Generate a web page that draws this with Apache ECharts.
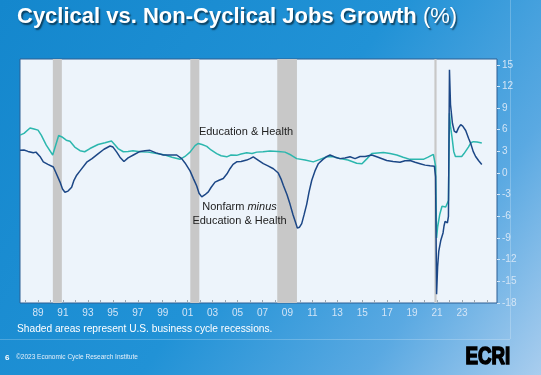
<!DOCTYPE html>
<html>
<head>
<meta charset="utf-8">
<script src="https://cdn.jsdelivr.net/npm/echarts@6/dist/echarts.min.js"></script>
<style>
html,body{margin:0;padding:0;width:541px;height:375px;overflow:hidden;}
#c{width:541px;height:375px;}
</style>
</head>
<body>
<div id="c"></div>
<script>
// Education & Health (decimal year, % y/y)
var eduYears = [1987.95,1988.26,1988.73,1989.04,1989.35,1989.60,1989.99,1990.49,1990.95,1991.21,1991.54,1991.83,1992.20,1992.61,1992.97,1993.38,1994.01,1994.55,1995.05,1995.33,1995.56,1995.97,1996.34,1996.72,1997.27,1997.89,1998.56,1999.21,1999.75,2000.37,2000.76,2001.15,2001.54,2001.79,2002.08,2002.45,2002.78,2003.22,2003.56,2004.00,2004.33,2004.77,2005.11,2005.55,2005.96,2006.33,2006.82,2007.36,2007.98,2008.52,2008.99,2009.43,2010.08,2010.72,2011.24,2011.76,2012.25,2012.79,2013.41,2014.09,2014.50,2014.89,2015.26,2016.16,2016.68,2017.20,2017.69,2018.23,2019.26,2019.63,2020.04,2020.12,2020.21,2020.29,2020.37,2020.54,2020.71,2020.79,2021.00,2021.21,2021.29,2021.37,2021.50,2021.62,2021.75,2022.00,2022.24,2022.42,2022.76,2022.96,2023.14,2023.43,2023.80];
var eduValues = [5.25,5.5,6.25,6.1,5.95,5.25,3.86,2.5,5.2,5.0,4.55,4.4,3.6,3.1,2.95,3.4,3.95,4.2,4.45,3.9,3.4,2.95,3.0,3.1,2.95,2.9,2.7,2.5,2.2,1.9,2.3,2.9,3.8,4.1,3.95,3.7,3.2,2.7,2.4,2.25,2.5,2.45,2.65,2.8,2.7,2.9,2.95,3.05,3.0,2.9,2.5,2.0,1.8,1.55,1.9,2.25,2.3,2.0,1.8,1.35,1.3,2.0,2.7,2.85,2.7,2.5,2.2,1.9,1.9,2.2,2.6,2.7,1.0,-9.0,-7.5,-5.7,-4.6,-4.4,-4.7,-3.8,8.3,6.5,4.8,3.0,2.3,2.3,2.3,2.7,3.6,4.2,4.35,4.3,4.15];

// Nonfarm minus Education & Health
var nfYears = [1987.95,1988.26,1988.57,1988.98,1989.19,1989.50,1989.76,1990.12,1990.54,1990.75,1991.06,1991.25,1991.44,1991.68,1991.96,1992.14,1992.35,1992.61,1993.13,1993.54,1994.03,1994.47,1994.94,1995.17,1995.46,1995.71,1996.02,1996.34,1996.75,1997.27,1997.65,1998.04,1998.51,1999.08,1999.60,2000.12,2000.50,2000.76,2001.15,2001.42,2001.67,2001.85,2002.06,2002.31,2002.57,2002.78,2003.09,2003.40,2003.73,2004.02,2004.25,2004.49,2004.77,2005.11,2005.55,2005.81,2006.06,2006.43,2006.84,2007.20,2007.62,2008.00,2008.21,2008.39,2008.68,2008.91,2009.15,2009.30,2009.48,2009.65,2009.82,2010.00,2010.21,2010.39,2010.60,2010.85,2011.11,2011.47,2011.78,2012.02,2012.41,2012.79,2013.18,2013.57,2013.96,2014.35,2014.74,2015.26,2015.75,2016.42,2016.91,2017.45,2017.84,2018.23,2018.62,2019.01,2019.40,2019.78,2020.12,2020.21,2020.29,2020.37,2020.46,2020.62,2020.79,2020.87,2020.95,2021.13,2021.21,2021.29,2021.37,2021.52,2021.66,2021.83,2022.00,2022.16,2022.32,2022.55,2022.78,2022.94,2023.13,2023.32,2023.56,2023.80];
var nfValues = [3.16,3.2,3.0,2.8,2.9,2.3,1.55,1.2,0.84,0.0,-1.25,-2.2,-2.65,-2.5,-1.95,-1.0,-0.3,0.3,1.5,2.0,2.7,3.3,3.75,3.6,2.9,2.2,1.6,2.1,2.5,3.0,3.1,3.15,2.8,2.5,2.5,2.5,2.0,1.4,0.3,-0.8,-1.8,-2.8,-3.3,-3.0,-2.6,-2.0,-1.25,-1.0,-0.75,-0.1,0.6,1.2,1.55,1.6,1.8,2.0,2.25,1.8,1.3,1.0,0.6,0.0,-0.8,-1.7,-3.0,-4.3,-5.8,-6.6,-7.6,-7.5,-7.0,-5.8,-4.3,-2.6,-1.0,0.3,1.3,1.9,2.3,2.5,2.2,2.0,2.1,2.25,2.0,2.3,2.3,2.5,2.2,1.75,1.6,1.5,1.7,1.75,1.5,1.3,1.1,1.0,0.95,-0.5,-16.8,-13.0,-10.8,-9.3,-8.3,-7.3,-6.7,-6.9,-6.0,14.3,9.5,6.9,5.8,5.6,6.3,6.7,6.5,5.9,4.8,4.1,3.0,2.3,1.7,1.2];

// Recessions
var recessionStart = [1990.50, 2001.17, 2007.92, 2020.12];
var recessionEnd   = [1991.20, 2001.87, 2009.45, 2020.29];

// Axis labels
var xLabelYears = [1989,1991,1993,1995,1997,1999,2001,2003,2005,2007,2009,2011,2013,2015,2017,2019,2021,2023];
var xTickYears = [1988,1989,1990,1991,1992,1993,1994,1995,1996,1997,1998,1999,2000,2001,2002,2003,2004,2005,2006,2007,2008,2009,2010,2011,2012,2013,2014,2015,2016,2017,2018,2019,2020,2021,2022,2023,2024,2025];
var yTicks = [-18,-15,-12,-9,-6,-3,0,3,6,9,12,15];

function zip(a,b){var r=[];for(var i=0;i<a.length;i++){r.push([a[i],b[i]]);}return r;}
var areas = [];
for (var i=0;i<recessionStart.length;i++){ areas.push([{xAxis:recessionStart[i]},{xAxis:recessionEnd[i]}]); }

var chart = echarts.init(document.getElementById('c'), null, {renderer:'canvas'});
var light = '#d3e5f6';
var ff = 'Liberation Sans, Arial, sans-serif';
chart.setOption({
  animation:false,
  backgroundColor:{type:'linear',x:0,y:0,x2:1,y2:1,colorStops:[
    {offset:0,color:'#1487cd'},{offset:0.5,color:'#2192d6'},{offset:0.78,color:'#5aa9e2'},{offset:1,color:'#a9cdee'}]},
  grid:{left:20,right:44,top:59,bottom:72,show:true,backgroundColor:'#edf4fb',borderColor:'#2d5f93',borderWidth:1},
  xAxis:[
    {type:'value',min:1987.95,max:2024.98,show:false},
    {type:'value',min:1987.557,max:2025.808,position:'bottom',
     axisLine:{show:false,onZero:false},splitLine:{show:false},
     axisTick:{show:true,inside:true,length:3,customValues:xTickYears,lineStyle:{color:'#9aa7b3',width:1}},
     axisLabel:{customValues:xLabelYears,color:light,fontSize:10,fontFamily:ff,margin:5,
       formatter:function(v){var s=String(Math.round(v)%100);return s.length<2?'0'+s:s;}}}
  ],
  yAxis:{type:'value',position:'right',min:-18,max:15.8,interval:3,
    splitLine:{show:false},axisLine:{show:false},
    axisTick:{show:true,length:3,customValues:yTicks,lineStyle:{color:light}},
    axisLabel:{customValues:yTicks,color:light,fontSize:10,fontFamily:ff,margin:5}},
  series:[
    {type:'line',xAxisIndex:0,data:[],z:1,silent:true,
     markArea:{silent:true,itemStyle:{color:'#c8c8c8',opacity:1},data:areas}},
    {name:'Education & Health',type:'line',xAxisIndex:0,data:zip(eduYears,eduValues),showSymbol:false,z:3,
     lineStyle:{color:'#2cb7ae',width:1.5}},
    {name:'Nonfarm minus Education & Health',type:'line',xAxisIndex:0,data:zip(nfYears,nfValues),showSymbol:false,z:4,
     lineStyle:{color:'#1c4786',width:1.5}}
  ],
  graphic:[
    {type:'text',left:17,top:6,z:10,style:{text:'{b|Cyclical vs. Non-Cyclical Jobs Growth }{n|(%)}',
      rich:{b:{fontFamily:ff,fontWeight:'bold',fontSize:22,fill:'#ffffff',
               textShadowColor:'rgba(0,0,0,0.55)',textShadowOffsetX:1.5,textShadowOffsetY:1.5,textShadowBlur:1.5},
            n:{fontFamily:ff,fontWeight:'normal',fontSize:22,fill:'#ffffff',
               textShadowColor:'rgba(0,0,0,0.55)',textShadowOffsetX:1.5,textShadowOffsetY:1.5,textShadowBlur:1.5}}}},
    {type:'text',x:246,y:132,z:10,style:{text:'Education & Health',fontSize:11,fontFamily:ff,fill:'#222',align:'center',verticalAlign:'middle'}},
    {type:'text',x:239.5,y:214,z:10,style:{text:'{r|Nonfarm }{i|minus}\n{r|Education & Health}',align:'center',verticalAlign:'middle',
      rich:{r:{fontSize:11,fontFamily:ff,fill:'#222',lineHeight:13.5,align:'center'},
            i:{fontSize:11,fontStyle:'italic',fontFamily:ff,fill:'#222',lineHeight:13.5}}}},
    {type:'text',x:17,y:329,z:10,style:{text:'Shaded areas represent U.S. business cycle recessions.',fontSize:10.2,fontFamily:ff,fill:'#ffffff',verticalAlign:'middle'}},
    {type:'line',z:5,shape:{x1:0,y1:339.5,x2:510,y2:339.5},style:{stroke:'rgba(255,255,255,0.22)',lineWidth:1}},
    {type:'line',z:5,shape:{x1:510.5,y1:0,x2:510.5,y2:339},style:{stroke:'rgba(255,255,255,0.22)',lineWidth:1}},
    {type:'text',x:5,y:357.5,z:10,style:{text:'6',fontSize:8,fontWeight:'bold',fontFamily:ff,fill:'#ffffff',verticalAlign:'middle'}},
    {type:'text',x:16,y:357.5,z:10,style:{text:'©2023 Economic Cycle Research Institute',fontSize:6.5,fontFamily:ff,fill:'#e6f0fa',verticalAlign:'middle'}},
    {type:'text',x:465.5,y:357,z:10,scaleX:0.78,scaleY:1,originX:0,originY:0,style:{text:'ECRI',fontSize:24,fontWeight:900,fontFamily:ff,fill:'#000000',stroke:'#000000',lineWidth:1.6,verticalAlign:'middle'}}
  ]
});
</script>
</body>
</html>
